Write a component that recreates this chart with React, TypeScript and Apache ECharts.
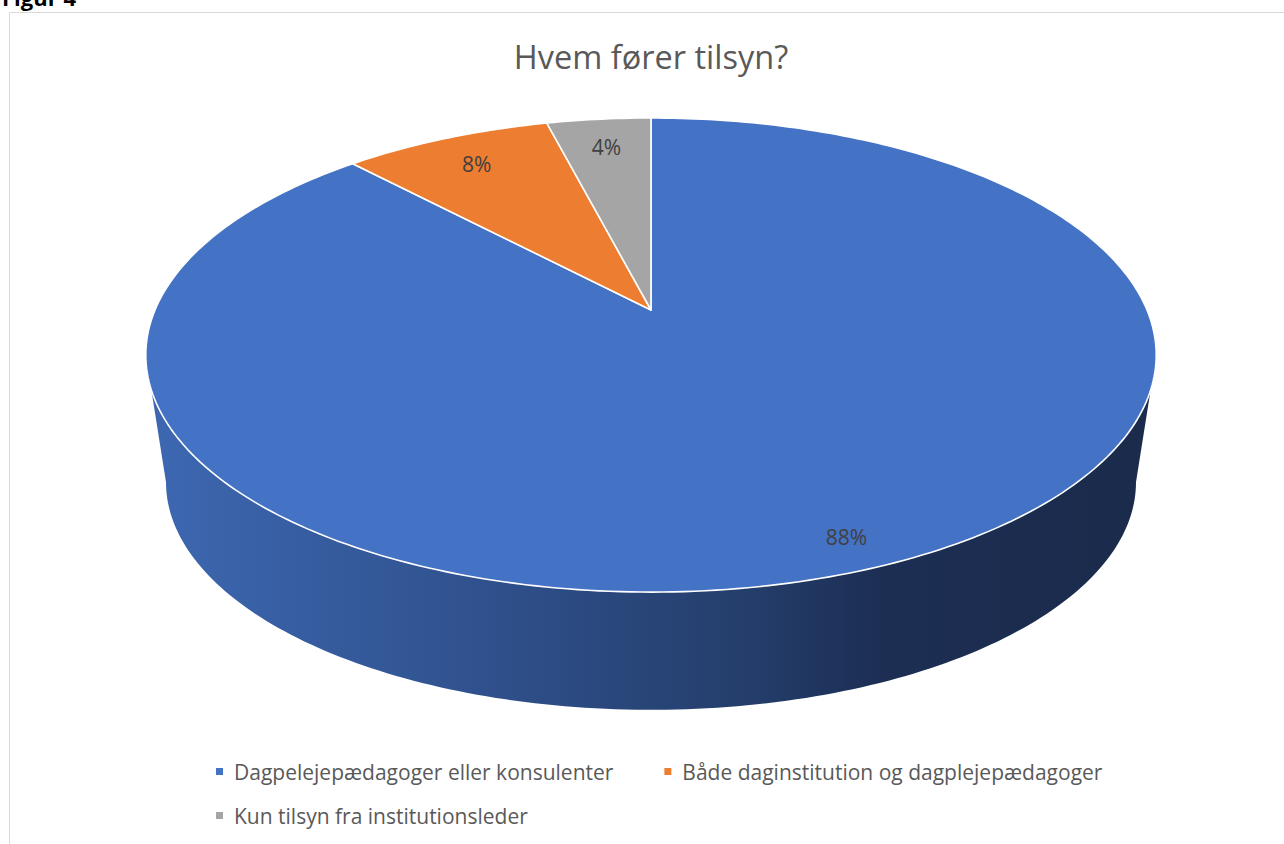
import React, { useEffect, useRef } from "react";
import * as echarts from "echarts";

const titleText = "Hvem fører tilsyn?";
const captionText = "Figur 4";
const categories = [
  "Dagpelejepædagoger eller konsulenter",
  "Både daginstitution og dagplejepædagoger",
  "Kun tilsyn fra institutionsleder",
];
const values = [88, 8, 4];
const colors = ["#4472c4", "#ed7d31", "#a5a5a5"];

// projection constants (layout)
const CX = 651;
const CY = 310;
const RX = 496;
const RY = 228.5;
const K = 0.19;
const DROP = 129;
const BS = 0.96;

function proj(theta: number, r: number, bottom: boolean): number[] {
  const s = bottom ? BS : 1;
  const x = Math.sin(theta) * r;
  const z = Math.cos(theta) * r;
  const w = 1 + K * z;
  return [CX + (RX * s * x) / w, CY + (bottom ? DROP : 0) - (RY * s * z) / w];
}

function arc(a0: number, a1: number, bottom: boolean): number[][] {
  const pts: number[][] = [];
  const n = Math.max(2, Math.ceil(((a1 - a0) / Math.PI) * 180));
  for (let j = 0; j <= n; j++) {
    pts.push(proj(a0 + ((a1 - a0) * j) / n, 1, bottom));
  }
  return pts;
}

const total = values.reduce((a, b) => a + b, 0);

function renderItem(params: any, api: any) {
  const i = params.seriesIndex;
  const v = api.value(0);
  let start = 0;
  for (let j = 0; j < i; j++) start += values[j];
  const a0 = (2 * Math.PI * start) / total;
  const a1 = (2 * Math.PI * (start + v)) / total;
  const color = colors[i];
  const children: any[] = [];

  const vis0 = Math.acos(-K);
  const vis1 = 2 * Math.PI - vis0;
  const lo = Math.max(a0, vis0);
  const hi = Math.min(a1, vis1);
  if (hi > lo) {
    const top = arc(lo, hi, false);
    const bot = arc(lo, hi, true).reverse();
    children.push({
      type: "polygon",
      z2: 0,
      shape: { points: top.concat(bot) },
      style: {
        fill: new echarts.graphic.LinearGradient(0, 0, 1, 0, [
          { offset: 0, color: "#3d68b2" },
          { offset: 0.4, color: "#2d4c85" },
          { offset: 0.6, color: "#243d6a" },
          { offset: 0.73, color: "#1c2e53" },
          { offset: 1, color: "#1a2b4b" },
        ]),
        stroke: null,
      },
    });
  }

  const topPts = [[CX, CY]].concat(arc(a0, a1, false));
  children.push({
    type: "polygon",
    z2: 10,
    shape: { points: topPts },
    style: { fill: color, stroke: "#ffffff", lineWidth: 1.6, lineJoin: "round" },
  });

  const share = v / total;
  const mid = (a0 + a1) / 2;
  const lp = proj(mid, share > 0.5 ? 0.9 : 0.83, false);
  children.push({
    type: "text",
    z2: 20,
    x: lp[0],
    y: lp[1],
    style: {
      text: Math.round(share * 100) + "%",
      fill: "#404040",
      font: '21px "Open Sans", sans-serif',
      align: "center",
      verticalAlign: "middle",
    },
  });

  return { type: "group", children };
}

export default function App() {
  const ref = useRef<HTMLDivElement>(null);
  useEffect(() => {
    if (!ref.current) return;
    const chart = echarts.init(ref.current, undefined, { renderer: "svg" });
    const legendText = {
      color: "#595959",
      fontSize: 21,
      fontFamily: "Open Sans, sans-serif",
      padding: [0, 0, 0, 6],
    };
    chart.setOption({
      animation: false,
      backgroundColor: "#ffffff",
      title: {
        text: titleText,
        left: 646,
        top: 35,
        textAlign: "center",
        textStyle: {
          color: "#595959",
          fontSize: 32.5,
          fontWeight: "normal",
          fontFamily: "Open Sans, sans-serif",
        },
      },
      legend: [
        {
          data: [categories[0], categories[1]],
          left: 211,
          top: 756,
          icon: "rect",
          itemWidth: 7,
          itemHeight: 7,
          itemGap: 51,
          selectedMode: false,
          textStyle: legendText,
        },
        {
          data: [categories[2]],
          left: 211,
          top: 800,
          icon: "rect",
          itemWidth: 7,
          itemHeight: 7,
          selectedMode: false,
          textStyle: legendText,
        },
      ],
      graphic: [
        {
          type: "rect",
          silent: true,
          z: -10,
          shape: { x: 9.5, y: 12.5, width: 1400, height: 900 },
          style: { fill: "#ffffff", stroke: "#d9d9d9", lineWidth: 1 },
        },
        {
          type: "text",
          silent: true,
          x: 2,
          y: -3,
          style: {
            text: captionText,
            fill: "#000000",
            font: 'bold 22px "Open Sans", sans-serif',
            verticalAlign: "middle",
          },
        },
      ],
      series: categories.map((name, i) => ({
        type: "custom",
        name,
        coordinateSystem: "none",
        silent: true,
        itemStyle: { color: colors[i] },
        renderItem,
        data: [[values[i]]],
      })),
    });
    return () => chart.dispose();
  }, []);
  return (
    <div
      ref={ref}
      style={{ position: "absolute", left: 0, top: 0, width: 1284, height: 844 }}
    />
  );
}
